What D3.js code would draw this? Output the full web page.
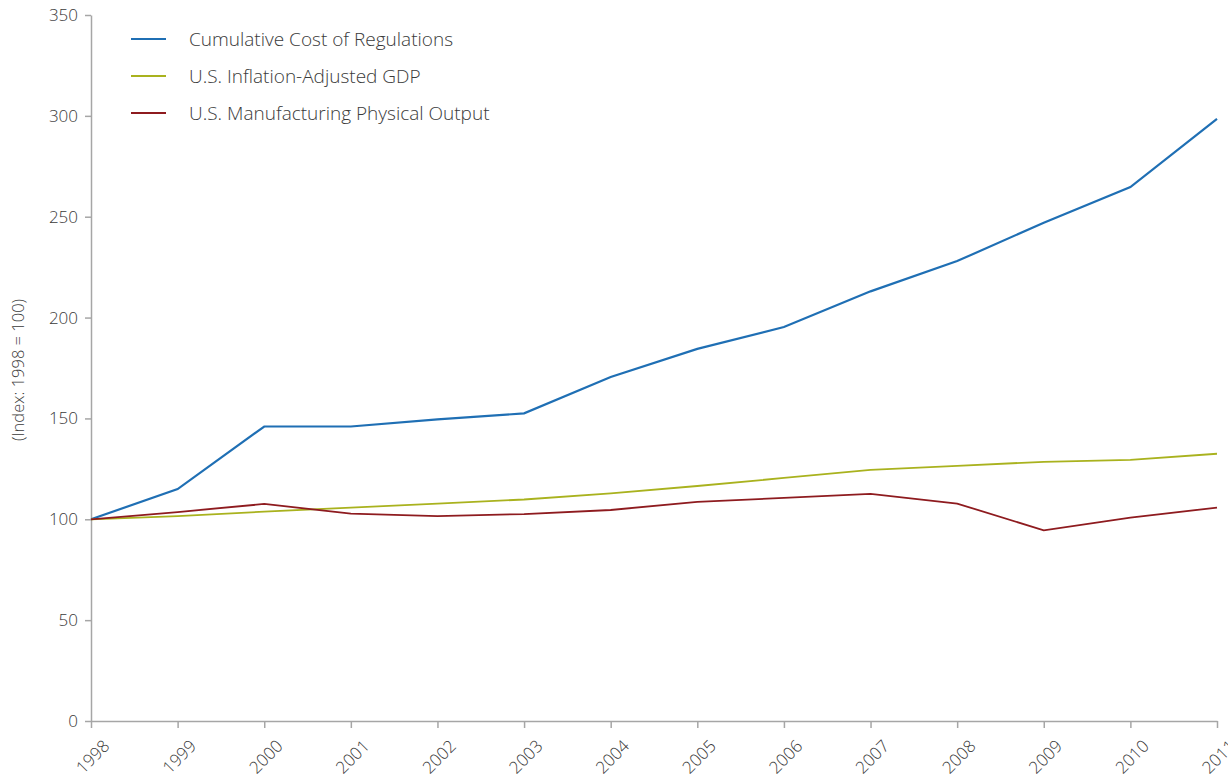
<!DOCTYPE html>
<html><head><meta charset="utf-8">
<script src="https://cdn.jsdelivr.net/npm/d3@7/dist/d3.min.js"></script>
<style>body{margin:0;background:#fff;}svg{display:block;font-family:"Open Sans",sans-serif;}</style>
</head><body><svg id="c" width="1228" height="783"></svg>
<script>
const years = [1998,1999,2000,2001,2002,2003,2004,2005,2006,2007,2008,2009,2010,2011];
const regulations = [100,115,146,146,149.5,152.5,170.5,184.5,195.3,213,228,247,264.7,298.5];
const gdp = [100,101.6,103.8,105.8,107.8,109.8,112.8,116.5,120.5,124.5,126.5,128.5,129.5,132.5];
const manufacturing = [100,103.6,107.6,102.8,101.6,102.6,104.6,108.6,110.6,112.6,107.8,94.5,100.8,105.8];
const seriesNames = ["Cumulative Cost of Regulations","U.S. Inflation-Adjusted GDP","U.S. Manufacturing Physical Output"];
const yTicks = [0,50,100,150,200,250,300,350];
const colors = ["#1f6fb4","#a9b21e","#8e1b1f"];
const series = [regulations, gdp, manufacturing];

const svg = d3.select("#c");
const x = d3.scalePoint().domain(years).range([91,1217]);
const y = d3.scaleLinear().domain([0,350]).range([721,15]);

const axisColor = "#a6a6a6";
const textColor = "#3a3a3a";
const xg = svg.append("g").attr("transform","translate(0,721)")
  .call(d3.axisBottom(x).tickSize(7).tickSizeOuter(0));
xg.selectAll("text").attr("text-anchor","end").attr("x",0).attr("y",0).attr("dy","0.35em")
  .attr("transform","translate(15,22) rotate(-45)").attr("font-size",17).attr("fill",textColor)
  .attr("font-family","Open Sans, sans-serif").style("font-weight",300);
const yg = svg.append("g").attr("transform","translate(91,0)")
  .call(d3.axisLeft(y).tickValues(yTicks).tickSize(6).tickSizeOuter(0).tickPadding(7));
yg.selectAll("text").attr("font-size",17).attr("fill",textColor)
  .attr("font-family","Open Sans, sans-serif").style("font-weight",300);
svg.selectAll(".domain, .tick line").attr("stroke",axisColor).attr("stroke-width",1.5);

svg.append("text").attr("transform","translate(24,370) rotate(-90)")
  .attr("text-anchor","middle").attr("font-size",16.5).attr("fill",textColor).style("font-weight",300)
  .text("(Index: 1998 = 100)");

const line = d3.line().x((d,i)=>x(years[i])).y(d=>y(d));
series.forEach((s,k)=>{
  svg.append("path").datum(s).attr("d",line).attr("fill","none")
    .attr("stroke",colors[k]).attr("stroke-width", k===0?2.2:1.8);
});

const leg = svg.append("g");
seriesNames.forEach((n,k)=>{
  const ly = 39 + k*37;
  leg.append("line").attr("x1",131).attr("x2",166).attr("y1",ly).attr("y2",ly)
    .attr("stroke",colors[k]).attr("stroke-width",2);
  leg.append("text").attr("x",189).attr("y",ly).attr("dy","0.35em")
    .attr("font-size",19).attr("fill",textColor).style("font-weight",300).text(n);
});
</script></body></html>
